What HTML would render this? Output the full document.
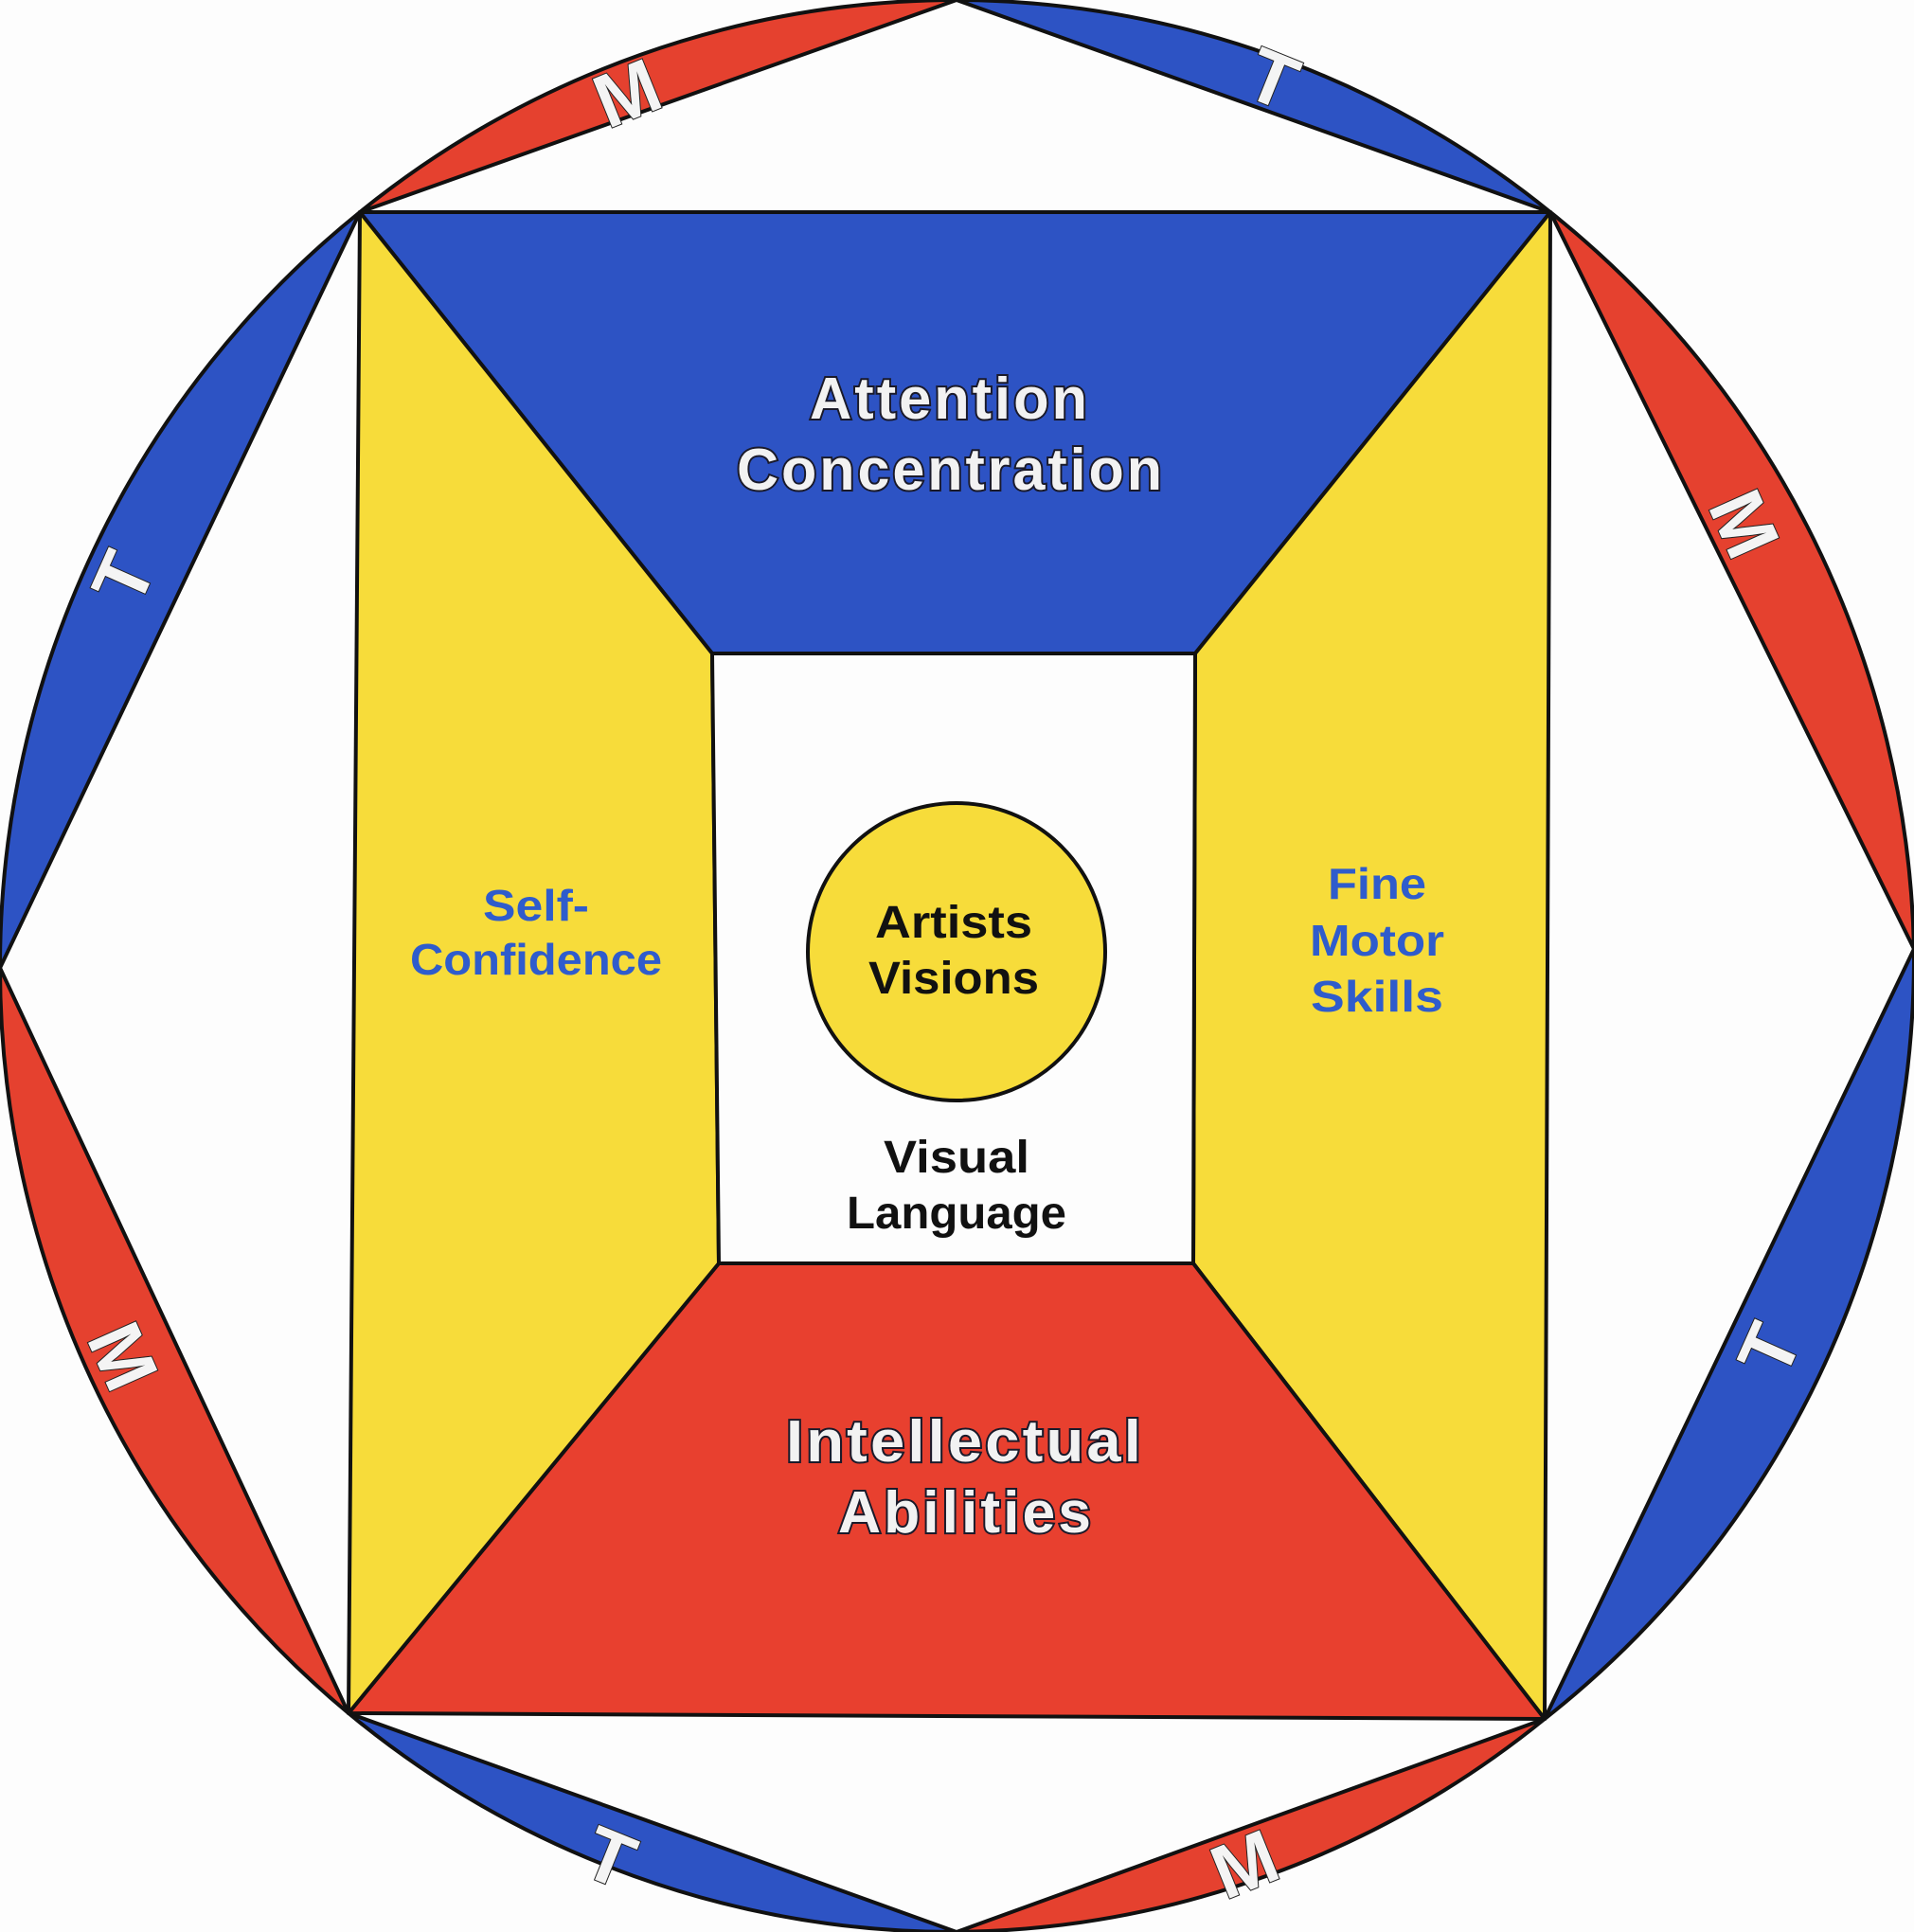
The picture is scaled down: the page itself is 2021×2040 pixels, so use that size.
<!DOCTYPE html>
<html><head><meta charset="utf-8"><style>
html,body{margin:0;padding:0;background:#fdfdfd;}
svg{display:block}
text{font-family:"Liberation Sans",sans-serif;font-weight:bold;}
</style></head><body>
<svg width="2021" height="2040" viewBox="0 0 2021 2040" xmlns="http://www.w3.org/2000/svg">
<rect width="2021" height="2040" fill="#fdfdfd"/>
<g stroke="#111" stroke-width="4" stroke-linejoin="round">
<path d="M0,1022 A1010,1020 0 0 1 380,224 Z" fill="#2d53c4"/>
<path d="M380,224 A1010,1020 0 0 1 1010,0 Z" fill="#e5412f"/>
<path d="M1010,0 A1010,1020 0 0 1 1637,224 Z" fill="#2d53c4"/>
<path d="M1637,224 A1010,1020 0 0 1 2021,1002 Z" fill="#e5412f"/>
<path d="M2021,1002 A1010,1020 0 0 1 1631,1815 Z" fill="#2d53c4"/>
<path d="M1631,1815 A1010,1020 0 0 1 1010,2040 Z" fill="#e5412f"/>
<path d="M1010,2040 A1010,1020 0 0 1 368,1809 Z" fill="#2d53c4"/>
<path d="M368,1809 A1010,1020 0 0 1 0,1022 Z" fill="#e5412f"/>
<polygon points="380,224 1637,224 1262,690 752,690" fill="#2d53c4"/>
<polygon points="1637,224 1631,1815 1260,1334 1262,690" fill="#f7dc3a"/>
<polygon points="368,1809 1631,1815 1260,1334 759,1334" fill="#e8402f"/>
<polygon points="380,224 752,690 759,1334 368,1809" fill="#f7dc3a"/>
<polygon points="752,690 1262,690 1260,1334 759,1334" fill="#fdfdfd"/>
<circle cx="1010" cy="1005" r="157" fill="#f7dc3a"/>
</g>
<g fill="#f4f4f4" stroke="#222" stroke-width="2" paint-order="stroke" font-size="80" text-anchor="middle">
<text transform="translate(662,98) rotate(-22)" dy="28">M</text>
<text transform="translate(1344,83) rotate(22)" dy="28">T</text>
<text transform="translate(1842,553) rotate(66)" dy="28">M</text>
<text transform="translate(1868,1425) rotate(-66)" dy="28">T</text>
<text transform="translate(1314,1968) rotate(-22)" dy="28">M</text>
<text transform="translate(644,1961) rotate(22)" dy="28">T</text>
<text transform="translate(130,1432) rotate(66)" dy="28">M</text>
<text transform="translate(130,610) rotate(-66)" dy="28">T</text>
</g>
<g text-anchor="middle">
<g fill="#f2f2f2" stroke="#1a1a2a" stroke-width="4" paint-order="stroke" font-size="62">
<text x="1003" y="442" textLength="296" lengthAdjust="spacingAndGlyphs" letter-spacing="3">Attention</text>
<text x="1004" y="517" textLength="452" lengthAdjust="spacingAndGlyphs" letter-spacing="3">Concentration</text>
<text x="1019" y="1543" textLength="378" lengthAdjust="spacingAndGlyphs" letter-spacing="3">Intellectual</text>
<text x="1020" y="1618" textLength="270" lengthAdjust="spacingAndGlyphs" letter-spacing="3">Abilities</text>
</g>
<g fill="#2f5ccc" font-size="46">
<text x="566" y="972" textLength="112" lengthAdjust="spacingAndGlyphs">Self-</text>
<text x="566" y="1029" textLength="266" lengthAdjust="spacingAndGlyphs">Confidence</text>
<text x="1454" y="949" textLength="104" lengthAdjust="spacingAndGlyphs">Fine</text>
<text x="1454" y="1009" textLength="142" lengthAdjust="spacingAndGlyphs">Motor</text>
<text x="1454" y="1068" textLength="140" lengthAdjust="spacingAndGlyphs">Skills</text>
</g>
<g fill="#111" font-size="48">
<text x="1007" y="990" textLength="166" lengthAdjust="spacingAndGlyphs">Artists</text>
<text x="1007" y="1049" textLength="180" lengthAdjust="spacingAndGlyphs">Visions</text>
<text x="1010" y="1238" textLength="154" lengthAdjust="spacingAndGlyphs">Visual</text>
<text x="1010" y="1297" textLength="232" lengthAdjust="spacingAndGlyphs">Language</text>
</g>
</g>
</svg>
</body></html>
